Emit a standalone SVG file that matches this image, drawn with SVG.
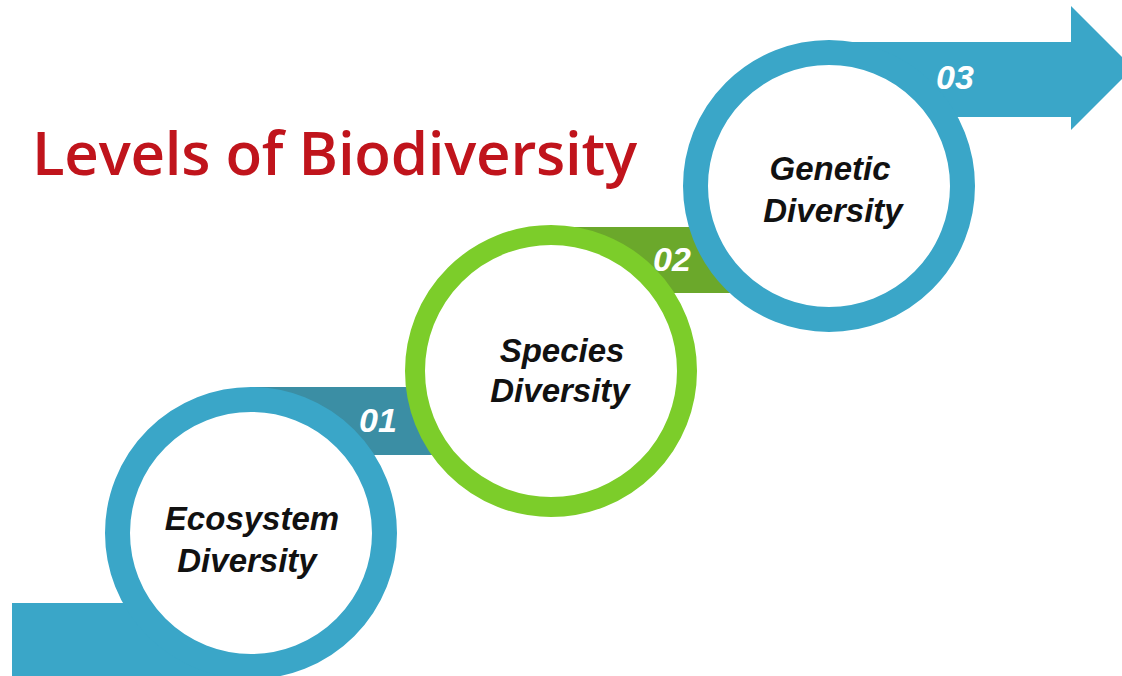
<svg xmlns="http://www.w3.org/2000/svg" width="1122" height="676" viewBox="0 0 1122 676">
<style>
.ring-blue{fill:#ffffff;stroke:#3aa6c8;stroke-width:25}
.ring-green{fill:#ffffff;stroke:#7ccd2a;stroke-width:20}
.label{font-family:"Liberation Sans",Arial,sans-serif;font-weight:bold;font-style:italic;font-size:33px;fill:#111111;text-anchor:middle}
.num{font-family:"Liberation Sans",Arial,sans-serif;font-weight:bold;font-style:italic;font-size:34px;fill:#ffffff}
.title{font-family:"Open Sans",sans-serif;font-weight:600;font-size:60px;fill:#c0141c}
</style>
<rect width="1122" height="676" fill="#ffffff"/>
<g id="connectors">
  <rect x="12" y="603" width="240" height="80" fill="#3aa6c8"/>
  <rect x="251" y="387" width="300" height="68" fill="#3b8ea4"/>
  <rect x="551" y="227" width="278" height="66" fill="#6ba82b"/>
  <path d="M829,42 H1071 V6 L1133,68 L1071,130 V117 H829 Z" fill="#3aa6c8"/>
</g>
<text class="title" x="32" y="175" textLength="605">Levels of Biodiversity</text>
<g id="node-ecosystem">
  <circle class="ring-blue" cx="251" cy="533" r="133.5"/>
  <text class="label" x="252" y="530">Ecosystem</text>
  <text class="label" x="247" y="572">Diversity</text>
</g>
<g id="node-species">
  <circle class="ring-green" cx="551" cy="371" r="136"/>
  <text class="label" x="562" y="362">Species</text>
  <text class="label" x="560" y="402">Diversity</text>
</g>
<g id="node-genetic">
  <circle class="ring-blue" cx="829" cy="186" r="133.5"/>
  <text class="label" x="830" y="180">Genetic</text>
  <text class="label" x="833" y="222">Diversity</text>
</g>
<g id="numbers">
  <text class="num" x="359" y="432">01</text>
  <text class="num" x="653" y="271">02</text>
  <text class="num" x="936" y="89">03</text>
</g>
</svg>
